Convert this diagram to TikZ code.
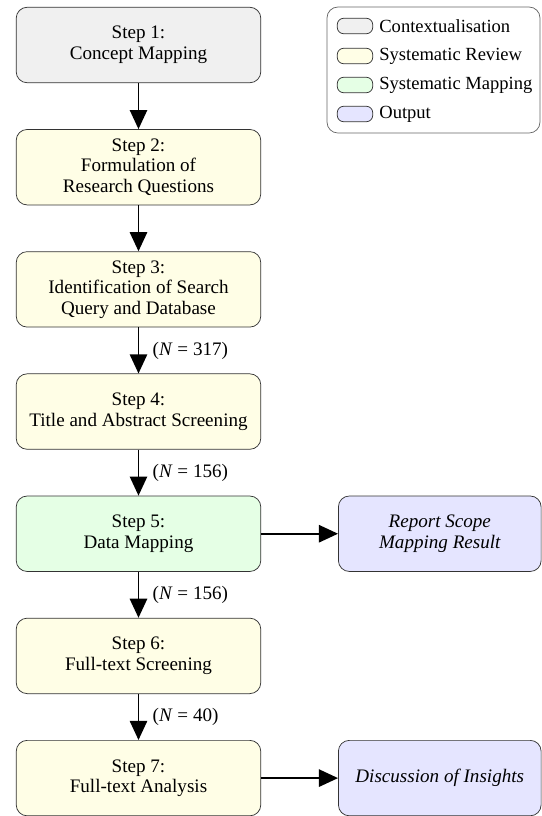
\documentclass[tikz,border=0pt]{standalone}
\usepackage{fontspec}
\setmainfont{Liberation Serif}
\usepackage{tikz}
\usetikzlibrary{arrows.meta,positioning}
\tikzset{>={Triangle[length=10.5pt,width=9.5pt]}}
\tikzstyle{stepbox}=[draw=black!80,rounded corners=6pt,minimum width=134.5pt,minimum height=41.5pt,align=center,font=\fontsize{10.5}{11.3}\selectfont]
\tikzstyle{context}=[stepbox,fill=gray!12]
\tikzstyle{review}=[stepbox,fill=yellow!10]
\tikzstyle{mapping}=[stepbox,fill=green!10]
\tikzstyle{output}=[stepbox,fill=blue!10,minimum width=111.5pt,font=\fontsize{10.5}{11.3}\selectfont\itshape]
\tikzstyle{flow}=[->,line width=1pt,black]
\tikzstyle{count}=[right,xshift=4pt,font=\fontsize{10.5}{11.3}\selectfont]
\tikzstyle{swatch}=[draw=black!80,rounded corners=3.5pt,minimum width=19.5pt,minimum height=8.5pt,inner sep=0pt]
\tikzstyle{keytext}=[right,inner sep=0pt,font=\fontsize{10.2}{11}\selectfont]

\begin{document}
\begin{tikzpicture}[x=0.55pt,y=-0.55pt,node distance=25.3pt and 42.3pt]
            \useasboundingbox (0,0) rectangle (542,816);
            % main chain
            \node[context] (s1) at (138.5,45) {Step 1:\\Concept Mapping};
            \node[review, below=of s1] (s2) {Step 2:\\Formulation of\\Research Questions};
            \node[review, below=of s2] (s3) {Step 3:\\Identification of Search\\Query and Database};
            \node[review, below=of s3] (s4) {Step 4:\\Title and Abstract Screening};
            \node[mapping, below=of s4] (s5) {Step 5:\\Data Mapping};
            \node[review, below=of s5] (s6) {Step 6:\\Full-text Screening};
            \node[review, below=of s6] (s7) {Step 7:\\Full-text Analysis};
            % outputs
            \node[output, right=of s5] (o1) {Report Scope\\Mapping Result};
            \node[output, right=of s7] (o2) {Discussion of Insights};
            \draw[flow] (s1)--(s2);
            \draw[flow] (s2)--(s3);
            \draw[flow] (s3)--(s4) node[count, midway]{(\textit{N} = 317)};
            \draw[flow] (s4)--(s5) node[count, midway]{(\textit{N} = 156)};
            \draw[flow] (s5)--(s6) node[count, midway]{(\textit{N} = 156)};
            \draw[flow] (s6)--(s7) node[count, midway]{(\textit{N} = 40)};
            \draw[flow] (s5)--(o1);
            \draw[flow] (s7)--(o2);
            % legend
            \draw[black!60, rounded corners=6pt] (327,7) rectangle (540,133);
            \node[swatch, fill=gray!12] (k1) at (355,26) {};
            \node[swatch, fill=yellow!10] (k2) at (355,56) {};
            \node[swatch, fill=green!10] (k3) at (355,85) {};
            \node[swatch, fill=blue!10] (k4) at (355,114) {};
            \node[keytext] (t1) at (379,26) {Contextualisation};
            \node[keytext] (t2) at (379,56) {Systematic Review};
            \node[keytext] (t3) at (379,85) {Systematic Mapping};
            \node[keytext] (t4) at (379,114) {Output};
        \end{tikzpicture}
\end{document}
